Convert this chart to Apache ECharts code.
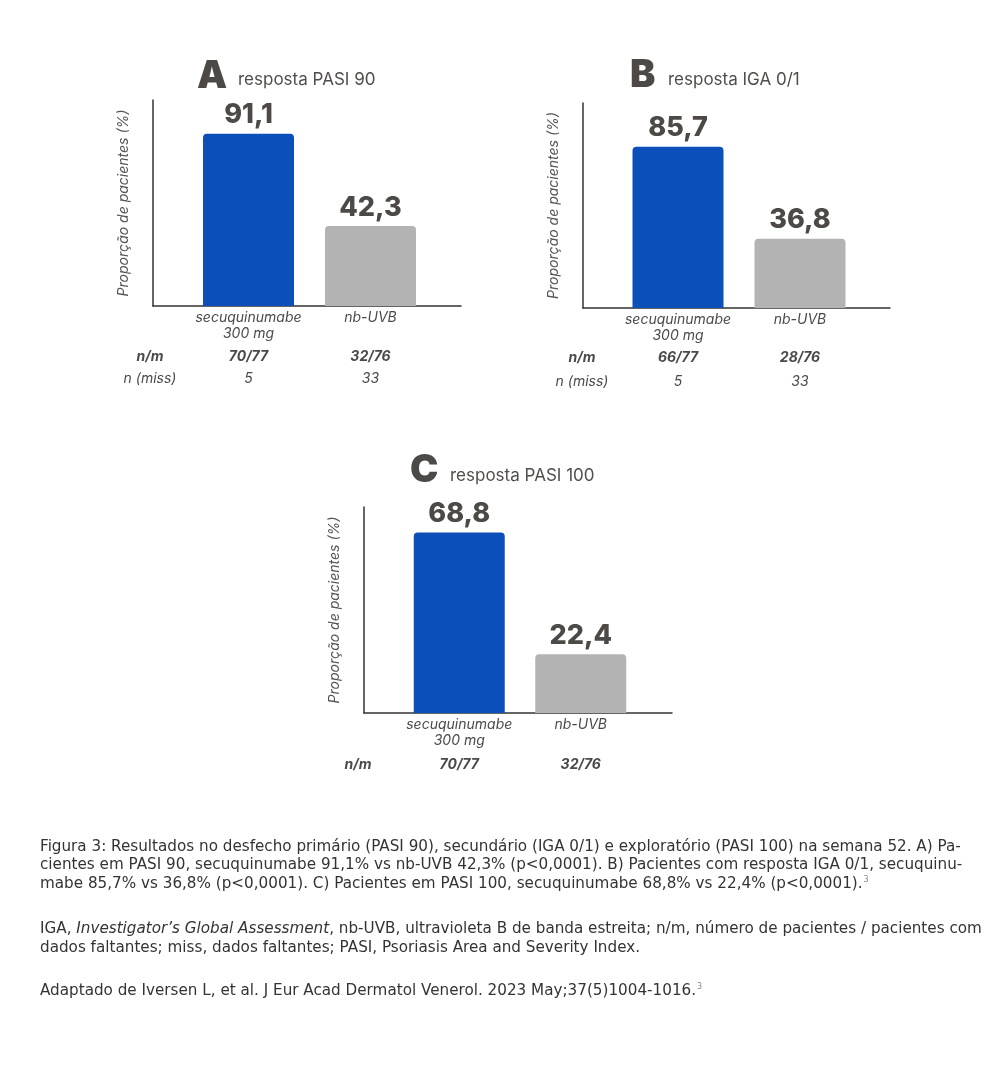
<!DOCTYPE html>
<html>
<head>
<meta charset="utf-8">
<script src="https://cdn.jsdelivr.net/npm/echarts@6/dist/echarts.min.js"></script>
<style>
html,body{margin:0;padding:0;background:#fff;}
#chart{width:1000px;height:1066px;}
</style>
</head>
<body>
<div id="chart"></div>
<script>
// ---- data ----
const panelLetters = ['A', 'B', 'C'];
const panelTitles = ['resposta PASI 90', 'resposta IGA 0/1', 'resposta PASI 100'];
const categories = ['secuquinumabe\n300 mg', 'nb-UVB'];
const secuValues = [91.1, 85.7, 68.8];
const nbuvbValues = [42.3, 36.8, 22.4];
const nmSecu = ['70/77', '66/77', '70/77'];
const nmNbuvb = ['32/76', '28/76', '32/76'];
const missSecu = ['5', '5', null];
const missNbuvb = ['33', '33', null];
const rowLabels = ['n/m', 'n (miss)'];
const yAxisName = 'Proporção de pacientes (%)';
const captionLines = [
  [['t', 'Figura 3: Resultados no desfecho primário (PASI 90), secundário (IGA 0/1) e exploratório (PASI 100) na semana 52. A) Pa-']],
  [['t', 'cientes em PASI 90, secuquinumabe 91,1% vs nb-UVB 42,3% (p<0,0001). B) Pacientes com resposta IGA 0/1, secuquinu-']],
  [['t', 'mabe 85,7% vs 36,8% (p<0,0001). C) Pacientes em PASI 100, secuquinumabe 68,8% vs 22,4% (p<0,0001).'], ['sup', '3']],
  [['t', 'IGA, '], ['i', 'Investigator’s Global Assessment'], ['t', ', nb-UVB, ultravioleta B de banda estreita; n/m, número de pacientes / pacientes com']],
  [['t', 'dados faltantes; miss, dados faltantes; PASI, Psoriasis Area and Severity Index.']],
  [['t', 'Adaptado de Iversen L, et al. J Eur Acad Dermatol Venerol. 2023 May;37(5)1004-1016.'], ['sup', '3']]
];

// ---- layout (positions / sizes) ----
const layout = [
  { axL: 153, axR: 461, top: 100, bot: 306, barL: 187.5, barW: 244, max: 109, letterX: 197, letterY: 77, subX: 238, subY: 80, rowX: 150, nmOff: 39, missOff: 61 },
  { axL: 583, axR: 890, top: 103, bot: 308, barL: 617, barW: 244, max: 109, letterX: 630, letterY: 76, subX: 668, subY: 80, rowX: 582, nmOff: 38, missOff: 62 },
  { axL: 364, axR: 672, top: 507, bot: 713, barL: 398.5, barW: 243, max: 78.5, letterX: 410, letterY: 471, subX: 450, subY: 476, rowX: 358, nmOff: 40, missOff: 62 }
];
const captionY = [847, 865, 884, 929, 948, 991];

const FONT = 'Inter, "Noto Sans", sans-serif';
const CAPFONT = '"DejaVu Sans", sans-serif';
const BLUE = '#0c4fb8';
const GRAY = '#b3b3b3';
const TXT = '#4d4946';

const grid = [], xAxis = [], yAxis = [], series = [], graphic = [];

layout.forEach((L, p) => {
  // axis-line grid
  const gA = grid.length;
  grid.push({ left: L.axL, top: L.top, width: L.axR - L.axL, height: L.bot - L.top, containLabel: false });
  xAxis.push({ type: 'value', gridIndex: gA, min: 0, max: 1, axisLine: { show: true, onZero: false, lineStyle: { color: '#333', width: 1.5 } },
    axisTick: { show: false }, axisLabel: { show: false }, splitLine: { show: false } });
  yAxis.push({ type: 'value', gridIndex: gA, min: 0, max: 1, axisLine: { show: true, onZero: false, lineStyle: { color: '#333', width: 1.5 } },
    axisTick: { show: false }, axisLabel: { show: false }, splitLine: { show: false },
    name: yAxisName, nameLocation: 'middle', nameGap: 22, nameRotate: 90,
    nameTextStyle: { fontFamily: FONT, fontStyle: 'italic', fontSize: 14, color: '#555' } });

  // bar grid
  const gB = grid.length;
  grid.push({ left: L.barL, top: L.top, width: L.barW, height: L.bot - L.top, containLabel: false });
  const xCat = xAxis.length;
  xAxis.push({ type: 'category', gridIndex: gB, data: categories, axisLine: { show: false }, axisTick: { show: false },
    axisLabel: { interval: 0, margin: 4, fontFamily: FONT, fontStyle: 'italic', fontSize: 14, lineHeight: 16, color: '#4a4a4a' } });
  xAxis.push({ type: 'category', gridIndex: gB, position: 'bottom', offset: L.nmOff, data: [nmSecu[p], nmNbuvb[p]],
    axisLine: { show: false }, axisTick: { show: false },
    axisLabel: { interval: 0, margin: 4, fontFamily: FONT, fontStyle: 'italic', fontWeight: 'bold', fontSize: 14, lineHeight: 16, color: '#4a4a4a' } });
  if (missSecu[p] !== null) {
    xAxis.push({ type: 'category', gridIndex: gB, position: 'bottom', offset: L.missOff, data: [missSecu[p], missNbuvb[p]],
      axisLine: { show: false }, axisTick: { show: false },
      axisLabel: { interval: 0, margin: 4, fontFamily: FONT, fontStyle: 'italic', fontSize: 14, lineHeight: 16, color: '#4a4a4a' } });
  }
  const yB = yAxis.length;
  yAxis.push({ type: 'value', gridIndex: gB, min: 0, max: L.max, show: false });

  series.push({
    type: 'bar', xAxisIndex: xCat, yAxisIndex: yB, barWidth: 91,
    data: [
      { value: secuValues[p], itemStyle: { color: BLUE } },
      { value: nbuvbValues[p], itemStyle: { color: GRAY } }
    ],
    itemStyle: { borderRadius: [4, 4, 0, 0] },
    label: { show: true, position: 'top', distance: 5, fontFamily: FONT, fontWeight: 800, fontSize: 27, color: TXT,
      formatter: (d) => d.value.toFixed(1).replace('.', ',') },
    animation: false
  });

  // titles
  graphic.push({ type: 'text', x: L.letterX, y: L.letterY, style: { text: panelLetters[p], fontFamily: FONT, fontWeight: 900, fontSize: 38, fill: TXT, verticalAlign: 'middle', align: 'left' } });
  graphic.push({ type: 'text', x: L.subX, y: L.subY, style: { text: panelTitles[p], fontFamily: FONT, fontSize: 17, fill: '#514d4a', verticalAlign: 'middle', align: 'left' } });

  // row labels
  graphic.push({ type: 'text', x: L.rowX, y: L.bot + L.nmOff + 12, style: { text: rowLabels[0], fontFamily: FONT, fontStyle: 'italic', fontWeight: 'bold', fontSize: 14, fill: '#4a4a4a', align: 'center', verticalAlign: 'middle' } });
  if (missSecu[p] !== null) {
    graphic.push({ type: 'text', x: L.rowX, y: L.bot + L.missOff + 12, style: { text: rowLabels[1], fontFamily: FONT, fontStyle: 'italic', fontSize: 14, fill: '#4a4a4a', align: 'center', verticalAlign: 'middle' } });
  }
});

// caption
captionLines.forEach((line, i) => {
  const text = line.map(([k, s]) => '{' + k + '|' + s + '}').join('');
  graphic.push({ type: 'text', x: 40, y: captionY[i], style: {
    text: text, verticalAlign: 'middle', align: 'left',
    rich: {
      t: { fontFamily: CAPFONT, fontSize: 15.2, fill: '#333', color: '#333' },
      i: { fontFamily: CAPFONT, fontSize: 15.2, fontStyle: 'italic', fill: '#333', color: '#333' },
      sup: { fontFamily: CAPFONT, fontSize: 8, fill: '#888', color: '#888', verticalAlign: 'top', padding: [0, 0, 8, 1] }
    }
  } });
});

const chart = echarts.init(document.getElementById('chart'), null, { renderer: 'canvas' });
chart.setOption({ backgroundColor: '#fff', animation: false, grid, xAxis, yAxis, series, graphic });
</script>
</body>
</html>
